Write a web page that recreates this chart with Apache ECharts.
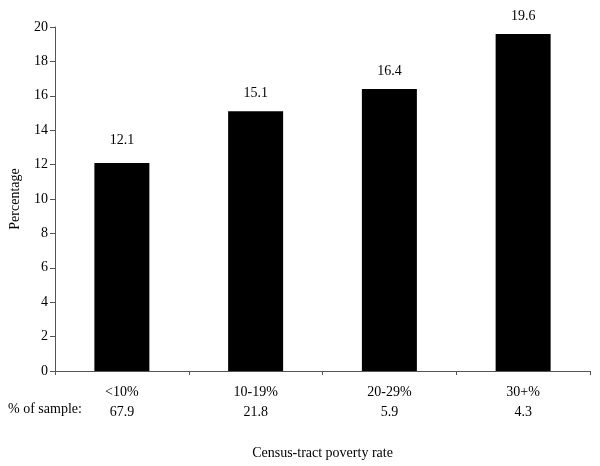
<!DOCTYPE html>
<html>
<head>
<meta charset="utf-8">
<style>
  html, body { margin: 0; padding: 0; background: #fff; }
  #chart { width: 600px; height: 466px; }
</style>
<script src="https://cdn.jsdelivr.net/npm/echarts@6/dist/echarts.min.js"></script>
</head>
<body>
<div id="chart"></div>
<script>
// census-tract poverty rate categories
const categories = ['<10%', '10-19%', '20-29%', '30+%'];
const percentages = [12.1, 15.1, 16.4, 19.6];
const sampleShares = ['67.9', '21.8', '5.9', '4.3'];

const font = 'Liberation Serif, Times New Roman, serif';

const chart = echarts.init(document.getElementById('chart'));
chart.setOption({
    animation: false,
    textStyle: { fontFamily: font, color: '#000' },
    grid: { left: 54, right: 10, top: 27, bottom: 95 },
    xAxis: {
        type: 'category',
        data: categories,
        name: 'Census-tract poverty rate',
        nameLocation: 'middle',
        nameGap: 75,
        nameTextStyle: { fontFamily: font, fontSize: 14, color: '#000' },
        axisLine: { lineStyle: { color: '#555', width: 1 } },
        axisTick: { show: true, length: 4, lineStyle: { color: '#555' } },
        axisLabel: {
            fontFamily: font,
            fontSize: 14,
            color: '#000',
            margin: 11,
            lineHeight: 20,
            formatter: (v, i) => v + '\n' + sampleShares[i]
        }
    },
    yAxis: {
        type: 'value',
        min: 0,
        max: 20,
        interval: 2,
        name: 'Percentage',
        nameLocation: 'middle',
        nameGap: 33,
        nameTextStyle: { fontFamily: font, fontSize: 14, color: '#000' },
        axisLine: { show: true, lineStyle: { color: '#555', width: 1 } },
        axisTick: { show: true, length: 5, lineStyle: { color: '#555' } },
        axisLabel: { fontFamily: font, fontSize: 14, color: '#000', margin: 7 },
        splitLine: { show: false }
    },
    graphic: [{
        type: 'text',
        left: 8,
        top: 402,
        style: { text: '% of sample:', font: '14px ' + font, fill: '#000' }
    }],
    series: [{
        type: 'bar',
        // first label sits a little higher above its bar in the original
        data: percentages.map((v, i) => i === 0 ? { value: v, label: { distance: 16 } } : v),
        barWidth: 55,
        itemStyle: { color: '#000' },
        label: {
            show: true,
            position: 'top',
            distance: 11,
            fontFamily: font,
            fontSize: 14,
            color: '#000'
        }
    }]
});
</script>
</body>
</html>
